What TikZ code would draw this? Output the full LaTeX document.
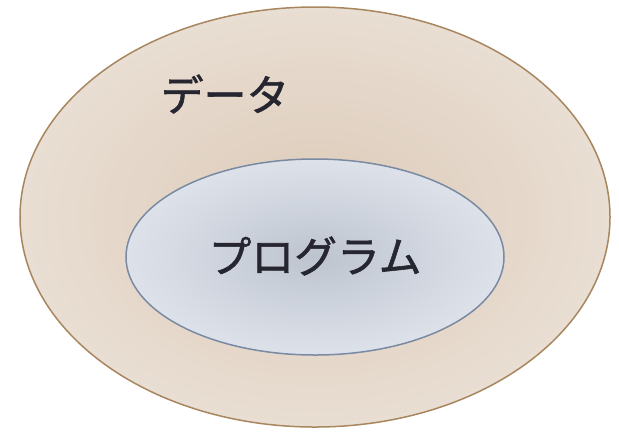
\documentclass[tikz,border=0pt]{standalone}
\usepackage{fontspec}
\newfontfamily\jpfont[FakeBold=1.3]{Noto Sans CJK JP}
\definecolor{outerin}{HTML}{DCCAB8}
\definecolor{outerout}{HTML}{E9DED3}
\definecolor{outerline}{HTML}{A8865E}
\definecolor{innerin}{HTML}{BEC4CF}
\definecolor{innerout}{HTML}{DDE2EA}
\definecolor{innerline}{HTML}{7A8AA2}
\definecolor{txt}{HTML}{262630}
\tikzset{
  setoval/.style={ellipse, draw, line width=1.5bp, inner sep=0pt},
  bigtext/.style={font=\jpfont\fontsize{43}{50}\selectfont, text=txt, inner sep=0pt}
}
\usetikzlibrary{shapes.geometric}
\begin{document}
\begin{tikzpicture}[x=1bp,y=-1bp]
\useasboundingbox (0,0) rectangle (619,431);
\node[setoval, draw=outerline, minimum width=590bp, minimum height=420bp,
  inner color=outerin, outer color=outerout] (data) at (315,217) {};
\node[setoval, draw=innerline, minimum width=378bp, minimum height=196bp,
  inner color=innerin, outer color=innerout] (prog) at (315,257) {};
\node[bigtext] (datalabel) at (225,94) {データ};
\node[bigtext] (proglabel) at (315,256) {プログラム};
\end{tikzpicture}
\end{document}
